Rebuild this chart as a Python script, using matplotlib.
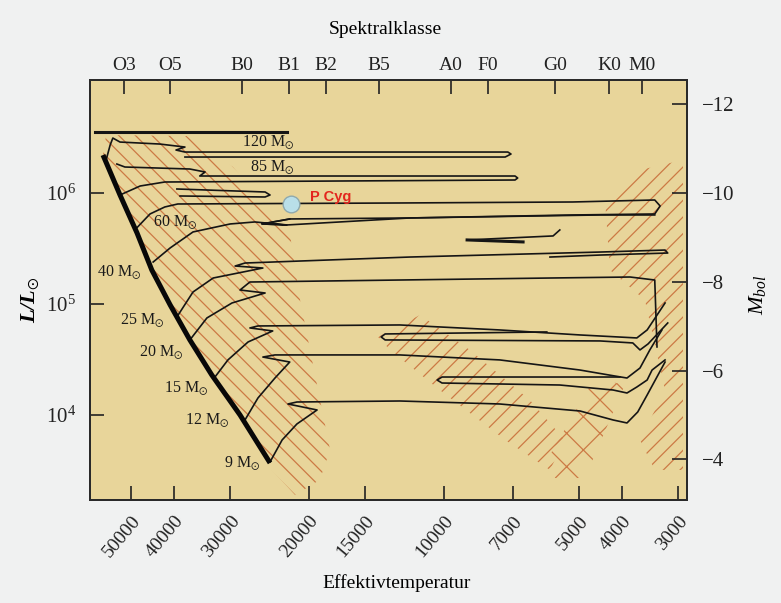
import numpy as np
import matplotlib
matplotlib.use("Agg")
import matplotlib.pyplot as plt
from matplotlib.patches import Polygon

plt.rcParams['font.family'] = ['Liberation Serif', 'DejaVu Serif']
plt.rcParams['mathtext.fontset'] = 'custom'
plt.rcParams['mathtext.rm'] = 'Liberation Serif'
plt.rcParams['mathtext.it'] = 'Liberation Serif:italic'
plt.rcParams['mathtext.bf'] = 'Liberation Serif:bold:italic'
plt.rcParams['mathtext.fallback'] = 'stix'
plt.rcParams['hatch.linewidth'] = 0.9

# ---------------- data (log Teff, log L/Lsun) ----------------
temp_ticks = [50000, 40000, 30000, 20000, 15000, 10000, 7000, 5000, 4000, 3000]
spec_classes = ["O3", "O5", "B0", "B1", "B2", "B5", "A0", "F0", "G0", "K0", "M0"]
spec_temps = [51800, 40800, 28250, 22200, 18300, 13950, 9640, 7960, 5650, 4280, 3610]
lum_ticks = [4, 5, 6]
mbol_ticks = [-12, -10, -8, -6, -4]
mbol_zero = 5.0

zams_logT = [4.761, 4.723, 4.685, 4.652, 4.611, 4.567, 4.518, 4.455, 4.388]
zams_logL = [6.342, 5.982, 5.640, 5.306, 4.991, 4.676, 4.360, 4.000, 3.568]

t120a_logT = [4.779, 4.350]
t120a_logL = [6.550, 6.550]
t120_logT = [4.754, 4.745, 4.739, 4.723, 4.634, 4.578, 4.598, 4.578, 3.857, 3.850, 3.863, 4.578]
t120_logL = [6.297, 6.432, 6.495, 6.459, 6.441, 6.414, 6.387, 6.369, 6.369, 6.351, 6.324, 6.324]

t85_logT = [4.723, 4.678, 4.623, 3.841, 3.835, 3.841, 4.545, 4.533, 4.567, 4.712, 4.730]
t85_logL = [5.982, 6.063, 6.099, 6.117, 6.135, 6.153, 6.153, 6.189, 6.216, 6.234, 6.261]
t85b_logT = [4.596, 4.399, 4.388, 4.399, 4.589]
t85b_logL = [6.036, 6.009, 5.982, 5.964, 5.973]

t60_logT = [4.690, 4.656, 4.623, 4.594, 4.098, 3.712, 3.529, 3.517, 3.529, 3.712, 4.076, 4.350, 4.406, 4.344]
t60_logL = [5.667, 5.811, 5.874, 5.901, 5.910, 5.919, 5.937, 5.883, 5.811, 5.802, 5.775, 5.712, 5.721, 5.766]

t40_logT = [4.649, 4.611, 4.560, 4.477, 4.422, 4.350, 4.406, 4.344, 4.076, 3.651, 3.529]
t40_logL = [5.378, 5.505, 5.649, 5.721, 5.739, 5.712, 5.721, 5.766, 5.775, 5.802, 5.802]
t40b_logT = [3.741, 3.756, 3.948, 3.823]
t40b_logL = [5.667, 5.613, 5.577, 5.559]

t25_logT = [4.596, 4.560, 4.515, 4.404, 4.466, 4.444, 4.076, 3.651, 3.506, 3.500, 3.651, 3.763]
t25_logL = [4.883, 5.108, 5.234, 5.324, 5.342, 5.369, 5.423, 5.468, 5.486, 5.459, 5.441, 5.423]

t20_logT = [4.567, 4.529, 4.473, 4.399, 4.455, 4.433, 4.098, 3.763, 3.584, 3.529, 3.524]
t20_logL = [4.676, 4.874, 5.009, 5.099, 5.126, 5.198, 5.216, 5.234, 5.243, 5.216, 4.613]

t15_logT = [4.511, 4.482, 4.437, 4.382, 4.433, 4.415, 4.098, 3.875, 3.696, 3.569, 3.546, 3.506]
t15_logL = [4.342, 4.496, 4.658, 4.757, 4.784, 4.802, 4.811, 4.766, 4.721, 4.694, 4.766, 5.009]
t15b_logT = [3.770, 4.131, 4.140, 4.131, 3.651, 3.578, 3.562, 3.544, 3.500]
t15b_logL = [4.748, 4.730, 4.703, 4.676, 4.667, 4.649, 4.586, 4.640, 4.829]

t12_logT = [4.444, 4.415, 4.377, 4.344, 4.404, 4.377, 4.098, 3.875, 3.696, 3.618, 3.591, 3.562, 3.540, 3.513]
t12_logL = [3.955, 4.153, 4.333, 4.477, 4.522, 4.541, 4.541, 4.496, 4.405, 4.351, 4.333, 4.423, 4.586, 4.766]
t12b_logT = [3.607, 4.004, 4.015, 4.004, 3.741, 3.622, 3.591, 3.569, 3.546, 3.535, 3.506]
t12b_logL = [4.342, 4.342, 4.315, 4.288, 4.270, 4.225, 4.198, 4.252, 4.315, 4.405, 4.496]

t9_logT = [4.388, 4.361, 4.328, 4.283, 4.348, 4.328, 4.098, 3.875, 3.696, 3.622, 3.591, 3.567, 3.546, 3.506]
t9_logL = [3.577, 3.775, 3.919, 4.045, 4.099, 4.117, 4.126, 4.099, 4.036, 3.955, 3.928, 4.027, 4.180, 4.477]

mass_labels = ["120", "85", "60", "40", "25", "20", "15", "12", "9"]
label_logT = [4.393, 4.384, 4.600, 4.725, 4.674, 4.632, 4.576, 4.529, 4.451]
label_logL = [6.459, 6.234, 5.739, 5.288, 4.856, 4.568, 4.243, 3.955, 3.568]

pcyg_logT, pcyg_logL = 4.341, 5.901

# hatched regions
band_ms_logT = [4.754, 4.574, 4.471, 4.344, 4.321, 4.254, 4.277, 4.332, 4.384] + zams_logT[::-1]
band_ms_logL = [6.522, 6.513, 6.234, 5.640, 5.036, 3.685, 3.415, 3.279, 3.505] + zams_logL[::-1]
band_red_logT = [3.640, 3.562, 3.466, 3.466, 3.529, 3.562, 3.506, 3.551, 3.629]
band_red_logL = [5.937, 6.207, 6.297, 3.505, 3.505, 3.775, 4.225, 5.036, 5.306]
band_mid_logT = [4.147, 4.053, 3.942, 3.808, 3.730, 3.763, 3.863, 4.009, 4.120]
band_mid_logL = [4.703, 4.901, 4.586, 4.135, 3.775, 3.505, 3.775, 4.225, 4.586]
band_x_logT = [3.663, 3.596, 3.685, 3.752, 3.763]
band_x_logL = [4.333, 4.270, 3.432, 3.432, 3.640]

# ---------------- figure ----------------
W, H = 781, 603
fig = plt.figure(figsize=(W / 100, H / 100), dpi=100, facecolor='#f0f1f1')
ax = fig.add_axes([90 / W, 1 - 500 / H, (687 - 90) / W, (500 - 80) / H])
ax.set_facecolor('#e8d59a')
ax.set_xlim(4.790, 3.457)
ax.set_ylim(3.234, 7.018)

hcol = '#cc7a45'
for tx, ly, hp in [(band_ms_logT, band_ms_logL, '\\\\'),
                   (band_red_logT, band_red_logL, '//'),
                   (band_mid_logT, band_mid_logL, '//'),
                   (band_x_logT, band_x_logL, 'x')]:
    ax.add_patch(Polygon(np.column_stack([tx, ly]), closed=True, fill=False,
                         hatch=hp, edgecolor=hcol, lw=0, zorder=1))

tc = '#151515'
tracks = [(t120_logT, t120_logL), (t85_logT, t85_logL), (t85b_logT, t85b_logL),
          (t60_logT, t60_logL), (t40_logT, t40_logL), (t40b_logT, t40b_logL),
          (t25_logT, t25_logL), (t20_logT, t20_logL),
          (t15_logT, t15_logL), (t15b_logT, t15b_logL), (t12_logT, t12_logL),
          (t12b_logT, t12b_logL), (t9_logT, t9_logL)]
for tx, ly in tracks:
    ax.plot(tx, ly, color=tc, lw=1.2, zorder=2, solid_joinstyle='round')
ax.plot(t120a_logT, t120a_logL, color=tc, lw=2.2, zorder=2)
ax.plot(t40b_logT[2:], t40b_logL[2:], color=tc, lw=2.2, zorder=2)
ax.plot(zams_logT, zams_logL, color='#080808', lw=3.6, zorder=3, solid_capstyle='butt')

for lab, tx, ly in zip(mass_labels, label_logT, label_logL):
    ax.text(tx, ly, lab + r" M$_{\odot}$", fontsize=11.5, ha='center', va='center',
            color='#1a1a1a', zorder=4)

ax.plot([pcyg_logT], [pcyg_logL], marker='o', ms=12, mfc='#b9dfe9', mec='#8fa9ad',
        mew=1.0, zorder=5)
ax.text(4.299, 5.964, "P Cyg", color='#e3261d', fontsize=10.5, fontweight='bold',
        family=['Liberation Sans', 'DejaVu Sans'], ha='left', va='center', zorder=5)

# axes styling
for s in ax.spines.values():
    s.set_linewidth(1.4)
    s.set_color('#2a2a2a')

ax.set_xticks(np.log10(temp_ticks))
ax.set_xticklabels([str(t) for t in temp_ticks], rotation=50, ha='right',
                   va='top', rotation_mode='anchor', fontsize=14)
ax.set_yticks(lum_ticks)
ax.set_yticklabels([r"$10^{%d}$" % v for v in lum_ticks], fontsize=15)
ax.tick_params(axis='x', direction='in', length=10, width=1.2, pad=9, colors='#222')
ax.tick_params(axis='y', direction='in', length=10, width=1.2, pad=10, colors='#222')

axt = ax.twiny()
axt.set_xlim(ax.get_xlim())
axt.set_xticks(np.log10(spec_temps))
axt.set_xticklabels(spec_classes, fontsize=14)
axt.tick_params(axis='x', direction='in', length=10, width=1.2, pad=4, colors='#222')

axr = ax.twinx()
axr.set_ylim(mbol_zero - 2.5 * 3.234, mbol_zero - 2.5 * 7.018)
axr.set_yticks(mbol_ticks)
axr.set_yticklabels(["\u2212%d" % abs(v) for v in mbol_ticks], fontsize=15)
axr.tick_params(axis='y', direction='in', length=11, width=1.2, pad=11, colors='#222')

for a in (axt, axr):
    for s in a.spines.values():
        s.set_linewidth(1.4)
        s.set_color('#2a2a2a')

fig.text(385 / W, 1 - 30 / H, "Spektralklasse", fontsize=14, ha='center', va='center')
fig.text(397 / W, 1 - 583 / H, "Effektivtemperatur", fontsize=14, ha='center', va='center')
fig.text(30 / W, 1 - 300 / H, r"$\mathbf{L/L}_{\odot}$", fontsize=16, rotation=90,
         ha='center', va='center')
fig.text(757 / W, 1 - 295 / H, r"$M_{bol}$", fontsize=16, rotation=90,
         ha='center', va='center')

fig.savefig("out.png", dpi=100, facecolor=fig.get_facecolor())
